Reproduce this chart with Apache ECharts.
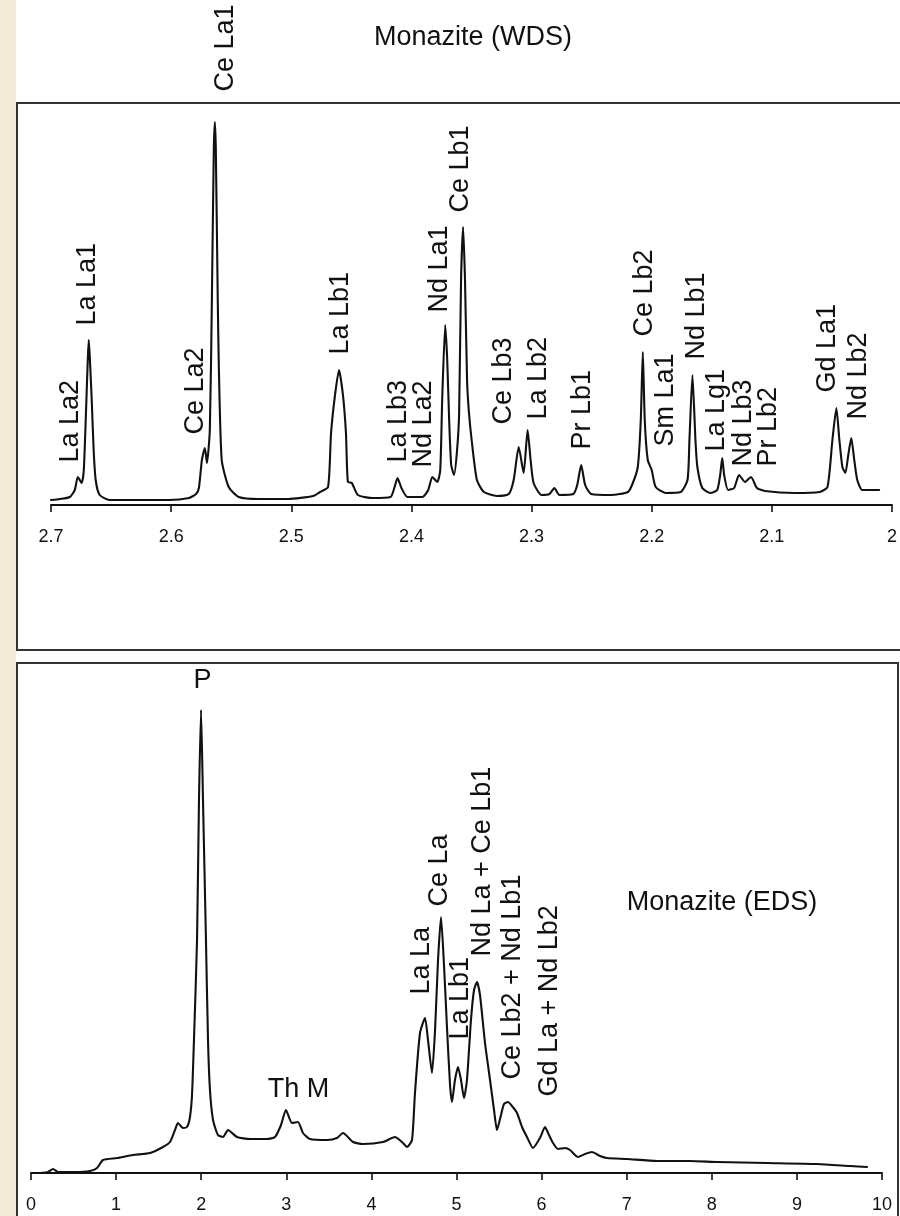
<!DOCTYPE html>
<html>
<head>
<meta charset="utf-8">
<script src="https://cdn.jsdelivr.net/npm/echarts@6/dist/echarts.min.js"></script>
<style>
  html, body { margin: 0; padding: 0; }
  #chart {
    width: 900px; height: 1216px;
    background: linear-gradient(to right, #f0ead6 0, #f0ead6 16px, #ffffff 16px);
  }
</style>
</head>
<body>
<div id="chart"></div>
<script>
// WDS scan of monazite: [d-spacing, counts]
const wdsSpectrum = [
  [2.7000, 12.5], [2.6926, 15], [2.6843, 20], [2.6802, 37.5], [2.6777, 70],
  [2.6744, 55], [2.6727, 87.5], [2.6711, 212.5], [2.6694, 362.5], [2.6686, 412.5],
  [2.6678, 375], [2.6661, 262.5], [2.6645, 137.5], [2.6628, 62.5], [2.6595, 25],
  [2.6512, 12.5], [2.6264, 12.5], [2.6017, 12.5], [2.5851, 17.5], [2.5793, 27.5],
  [2.5769, 42.5], [2.5744, 112.5], [2.5719, 142.5], [2.5702, 105], [2.5678, 187.5],
  [2.5661, 512.5], [2.5645, 887.5], [2.5636, 957.5], [2.5628, 887.5], [2.5612, 512.5],
  [2.5603, 345], [2.5579, 112.5], [2.5521, 45], [2.5438, 20], [2.5273, 15],
  [2.5025, 15], [2.4818, 22.5], [2.4760, 32.5], [2.4694, 45], [2.4669, 180],
  [2.4636, 275], [2.4603, 337.5], [2.4570, 275], [2.4545, 180], [2.4529, 57.5],
  [2.4496, 55], [2.4446, 25], [2.4322, 17.5], [2.4174, 20], [2.4140, 45],
  [2.4116, 67.5], [2.4083, 42.5], [2.4033, 20], [2.3909, 20], [2.3860, 37.5],
  [2.3826, 70], [2.3785, 57.5], [2.3760, 87.5], [2.3744, 262.5], [2.3719, 450],
  [2.3702, 362.5], [2.3686, 212.5], [2.3669, 100], [2.3645, 75], [2.3620, 137.5],
  [2.3603, 230], [2.3587, 562.5], [2.3570, 695], [2.3554, 562.5], [2.3537, 312.5],
  [2.3521, 230], [2.3496, 155], [2.3455, 62.5], [2.3397, 32.5], [2.3289, 22.5],
  [2.3190, 27.5], [2.3149, 62.5], [2.3107, 145], [2.3066, 80], [2.3033, 187.5],
  [2.3008, 112.5], [2.2983, 55], [2.2917, 25], [2.2851, 27.5], [2.2810, 42.5],
  [2.2769, 25], [2.2653, 27.5], [2.2620, 50], [2.2587, 100], [2.2554, 50],
  [2.2504, 27.5], [2.2339, 25], [2.2198, 32.5], [2.2157, 55], [2.2116, 95],
  [2.2091, 212.5], [2.2074, 382.5], [2.2058, 212.5], [2.2033, 112.5], [2.2000, 87.5],
  [2.1967, 45], [2.1884, 30], [2.1760, 32.5], [2.1702, 62.5], [2.1686, 162.5],
  [2.1661, 325], [2.1636, 162.5], [2.1620, 95], [2.1579, 42.5], [2.1512, 30],
  [2.1455, 37.5], [2.1430, 75], [2.1413, 117.5], [2.1397, 75], [2.1364, 37.5],
  [2.1314, 42.5], [2.1273, 75], [2.1223, 57.5], [2.1174, 70], [2.1124, 42.5],
  [2.1058, 35], [2.0810, 30], [2.0603, 32.5], [2.0537, 45], [2.0496, 162.5],
  [2.0463, 242.5], [2.0438, 162.5], [2.0413, 95], [2.0388, 80], [2.0364, 125],
  [2.0339, 167.5], [2.0314, 112.5], [2.0289, 62.5], [2.0248, 37.5], [2.0190, 37.5],
  [2.0107, 37.5]
];

// EDS spectrum of monazite: [energy keV, counts]
const edsSpectrum = [
  [0.106, 0], [0.200, 2], [0.259, 8], [0.317, 2], [0.517, 2], [0.693, 4],
  [0.776, 10], [0.846, 26], [1.011, 30], [1.199, 36], [1.398, 40], [1.551, 52],
  [1.633, 62], [1.692, 86], [1.727, 100], [1.786, 90], [1.833, 92], [1.868, 112],
  [1.892, 156], [1.915, 266], [1.951, 466], [1.974, 746], [1.998, 926], [2.021, 746],
  [2.056, 466], [2.080, 266], [2.103, 166], [2.139, 106], [2.197, 76], [2.256, 72],
  [2.315, 86], [2.421, 72], [2.573, 68], [2.773, 68], [2.867, 72], [2.938, 96],
  [2.996, 126], [3.067, 100], [3.137, 102], [3.196, 80], [3.278, 68], [3.478, 66],
  [3.596, 70], [3.666, 80], [3.784, 62], [3.901, 58], [4.136, 62], [4.277, 72],
  [4.371, 60], [4.418, 52], [4.477, 66], [4.512, 160], [4.571, 280], [4.630, 310],
  [4.665, 266], [4.712, 200], [4.748, 286], [4.783, 426], [4.818, 512], [4.853, 416],
  [4.888, 292], [4.924, 176], [4.947, 142], [4.982, 186], [5.018, 212], [5.053, 186],
  [5.088, 150], [5.123, 186], [5.170, 306], [5.206, 366], [5.241, 382], [5.276, 356],
  [5.335, 260], [5.394, 186], [5.441, 126], [5.476, 86], [5.523, 116], [5.558, 138],
  [5.605, 142], [5.652, 134], [5.711, 120], [5.770, 92], [5.828, 72], [5.899, 50],
  [5.981, 70], [6.040, 92], [6.087, 76], [6.134, 60], [6.193, 48], [6.275, 50],
  [6.334, 46], [6.428, 32], [6.510, 38], [6.592, 42], [6.686, 34], [6.768, 30],
  [7.004, 28], [7.356, 24], [7.744, 24], [8.061, 22], [8.649, 20], [9.236, 18],
  [9.624, 14], [9.824, 12]
];

// Line identifications: [text, x, y] in each panel's data units
const wdsLabels = [
  ['La La2', 2.6835, 105], ['La La1', 2.6694, 447.5], ['Ce La2', 2.5793, 175],
  ['Ce La1', 2.5545, 1032.5], ['La Lb1', 2.4587, 375], ['La Lb3', 2.4107, 105],
  ['Nd La2', 2.3893, 92.5], ['Nd La1', 2.3760, 480], ['Ce Lb1', 2.3587, 730],
  ['Ce Lb3', 2.3231, 200], ['La Lb2', 2.2934, 212.5], ['Pr Lb1', 2.2570, 137.5],
  ['Ce Lb2', 2.2058, 420], ['Sm La1', 2.1884, 145], ['Nd Lb1', 2.1620, 362.5],
  ['La Lg1', 2.1455, 132.5], ['Nd Lb3', 2.1231, 95], ['Pr Lb2', 2.1025, 95],
  ['Gd La1', 2.0529, 280], ['Nd Lb2', 2.0273, 212.5]
];
const edsLabels = [
  ['La La', 4.595, 356], ['Ce La', 4.806, 532], ['La Lb1', 5.053, 266],
  ['Nd La + Ce Lb1', 5.311, 432], ['Ce Lb2 + Nd Lb1', 5.664, 186],
  ['Gd La + Nd Lb2', 6.099, 152]
];
const edsFlatLabels = [['P', 2.021, 984], ['Th M', 3.149, 166]];

const panelTitles = ['Monazite (WDS)', 'Monazite (EDS)'];

const FONT = '"Liberation Sans", Arial, Helvetica, sans-serif';
const INK = '#111111';

function labelSeries(idx, list, vertical) {
  return {
    type: 'scatter',
    xAxisIndex: idx, yAxisIndex: idx,
    data: list.map(d => ({ name: d[0], value: [d[1], d[2]] })),
    symbolSize: 1,
    itemStyle: { color: 'rgba(0,0,0,0)' },
    clip: false, silent: true, z: 5,
    emphasis: { disabled: true },
    label: {
      show: true, formatter: '{b}', position: [0, 0],
      rotate: vertical ? 90 : 0,
      align: vertical ? 'left' : 'center', verticalAlign: 'middle',
      fontFamily: FONT, fontSize: 27, color: INK,
      textBorderWidth: 0, opacity: 1
    }
  };
}

function spectrumSeries(idx, data) {
  return {
    type: 'line', xAxisIndex: idx, yAxisIndex: idx,
    data: data, symbol: 'none', showSymbol: false, smooth: 0.2,
    emphasis: { disabled: true },
    lineStyle: { color: INK, width: 2.1, join: 'round', cap: 'round' },
    silent: true, z: 3
  };
}

function xAxisBase(gridIndex) {
  return {
    type: 'value', gridIndex,
    splitLine: { show: false },
    axisLine: { show: true, onZero: false, lineStyle: { color: INK, width: 2 } },
    axisTick: { show: true, length: 7, lineStyle: { color: INK, width: 1.6 } },
    axisLabel: { margin: 23, fontFamily: FONT, fontSize: 18, color: INK }
  };
}

const chart = echarts.init(document.getElementById('chart'), null, { renderer: 'canvas' });
chart.setOption({
  animation: false,
  grid: [
    { left: 51, right: 2, top: 105, height: 400 },
    { left: 31, right: 18, top: 673, height: 500 }
  ],
  xAxis: [
    Object.assign(xAxisBase(0), { min: 2.0, max: 2.7, interval: 0.1, inverse: true }),
    Object.assign(xAxisBase(1), { min: 0, max: 10, interval: 1 })
  ],
  yAxis: [
    { type: 'value', gridIndex: 0, min: 0, max: 1000, show: false },
    { type: 'value', gridIndex: 1, min: 0, max: 1000, show: false }
  ],
  graphic: [
    { type: 'rect', shape: { x: 17, y: 103, width: 900, height: 547 },
      style: { fill: '#ffffff', stroke: '#333333', lineWidth: 2 }, z: -10 },
    { type: 'rect', shape: { x: 17, y: 663, width: 881, height: 600 },
      style: { fill: '#ffffff', stroke: '#333333', lineWidth: 2 }, z: -10 },
    { type: 'text', x: 473, y: 38, z: 10,
      style: { text: panelTitles[0], align: 'center', verticalAlign: 'middle',
               font: '27px ' + FONT, fill: INK } },
    { type: 'text', x: 722, y: 903, z: 10,
      style: { text: panelTitles[1], align: 'center', verticalAlign: 'middle',
               font: '27px ' + FONT, fill: INK } }
  ],
  series: [
    spectrumSeries(0, wdsSpectrum),
    spectrumSeries(1, edsSpectrum),
    labelSeries(0, wdsLabels, true),
    labelSeries(1, edsLabels, true),
    labelSeries(1, edsFlatLabels, false)
  ]
});
</script>
</body>
</html>
